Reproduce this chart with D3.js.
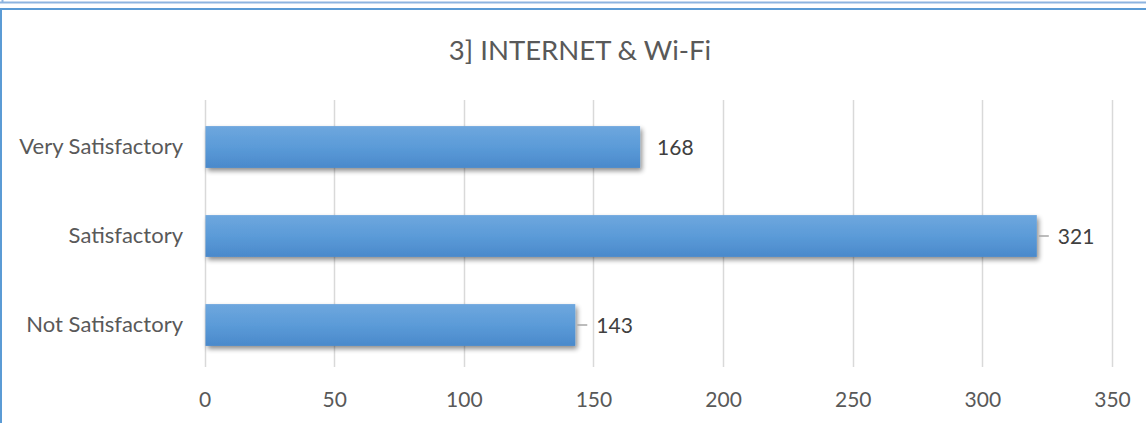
<!DOCTYPE html>
<html><head><meta charset="utf-8">
<script src="https://cdn.jsdelivr.net/npm/d3@7"></script>
<style>body{margin:0;background:#fff}svg{display:block}</style>
</head><body>
<svg id="c" width="1146" height="423"></svg>
<script>
const categories = ["Very Satisfactory", "Satisfactory", "Not Satisfactory"];
const values = [168, 321, 143];
const tickValues = [0, 50, 100, 150, 200, 250, 300, 350];
const title = "3] INTERNET & Wi-Fi";

const svg = d3.select("#c");
const W = 1146, H = 423;
const FONT = "Lato, 'Open Sans', sans-serif";

// outer frames
svg.append("line").attr("x1",0).attr("x2",W).attr("y1",2.5).attr("y2",2.5).attr("stroke","#8db4e0").attr("stroke-width",2);
svg.append("line").attr("x1",2.5).attr("x2",2.5).attr("y1",0).attr("y2",3).attr("stroke","#8db4e0").attr("stroke-width",2);
svg.append("line").attr("x1",0).attr("x2",W).attr("y1",9).attr("y2",9).attr("stroke","#5b9bd5").attr("stroke-width",2);
svg.append("line").attr("x1",1).attr("x2",1).attr("y1",8).attr("y2",H).attr("stroke","#5b9bd5").attr("stroke-width",2);

const x = d3.scaleLinear().domain([0,350]).range([204.5,1112]);
const y = d3.scaleBand().domain(categories).range([101,368]).paddingInner(0.53).paddingOuter(0.265);

const defs = svg.append("defs");
const g = defs.append("linearGradient").attr("id","bg").attr("x1",0).attr("x2",0).attr("y1",0).attr("y2",1);
g.append("stop").attr("offset","0%").attr("stop-color","#6ea7de");
g.append("stop").attr("offset","50%").attr("stop-color","#5b9bd8");
g.append("stop").attr("offset","100%").attr("stop-color","#4a89cb");
const f = defs.append("filter").attr("id","sh").attr("x","-5%").attr("y","-30%").attr("width","110%").attr("height","180%");
f.append("feGaussianBlur").attr("in","SourceAlpha").attr("stdDeviation",2.5).attr("result","b");
f.append("feOffset").attr("in","b").attr("dx",2).attr("dy",3).attr("result","o");
f.append("feComponentTransfer").attr("in","o").attr("result","o2").append("feFuncA").attr("type","linear").attr("slope",0.45);
const fm = f.append("feMerge"); fm.append("feMergeNode").attr("in","o2"); fm.append("feMergeNode").attr("in","SourceGraphic");

// gridlines
svg.append("g").selectAll("line").data(tickValues).join("line")
  .attr("x1",d=>Math.round(x(d))+0.5).attr("x2",d=>Math.round(x(d))+0.5)
  .attr("y1",100).attr("y2",367).attr("stroke","#d9d9d9").attr("stroke-width",1.5);

// x axis tick labels
const ax = svg.append("g").attr("transform","translate(0,367)")
  .call(d3.axisBottom(x).tickValues(tickValues).tickSize(0).tickPadding(0));
ax.select(".domain").remove();
ax.selectAll("text").attr("y",40).attr("dy",0).attr("font-family",FONT).attr("font-size",21).attr("fill","#595959");

// y axis labels
const ay = svg.append("g").attr("transform","translate(204,0)")
  .call(d3.axisLeft(y).tickSize(0).tickPadding(21));
ay.select(".domain").remove();
ay.selectAll("text").attr("font-family",FONT).attr("font-size",22).attr("fill","#595959").attr("dy","0.38em");

// bars
svg.append("g").selectAll("rect").data(values).join("rect")
  .attr("x",x(0)+1).attr("y",(d,i)=>y(categories[i])+1.5)
  .attr("width",d=>x(d)-x(0)-1).attr("height",y.bandwidth())
  .attr("fill","url(#bg)").attr("filter","url(#sh)");

// leader lines (for labels offset from bar)
const leaders = [false, true, true];
svg.append("g").selectAll("line").data(values).join("line")
  .filter((d,i)=>leaders[i])
  .attr("x1",d=>x(d)+2).attr("x2",d=>x(d)+12)
  .attr("y1",d=>y(categories[values.indexOf(d)])+y.bandwidth()/2+1.5)
  .attr("y2",d=>y(categories[values.indexOf(d)])+y.bandwidth()/2+1.5)
  .attr("stroke","#a6a6a6").attr("stroke-width",1.5);

// value labels
svg.append("g").selectAll("text").data(values).join("text")
  .attr("x",(d,i)=>x(d)+(leaders[i]?21:17))
  .attr("y",(d,i)=>y(categories[i])+y.bandwidth()/2+1.5)
  .attr("dy","0.38em")
  .attr("font-family",FONT).attr("font-size",21).attr("fill","#404040")
  .text(d=>d);

// title
svg.append("text").attr("x",580).attr("y",60).attr("text-anchor","middle")
  .attr("font-family",FONT).attr("font-size",27.5).attr("fill","#595959").text(title);
</script>
</body></html>
